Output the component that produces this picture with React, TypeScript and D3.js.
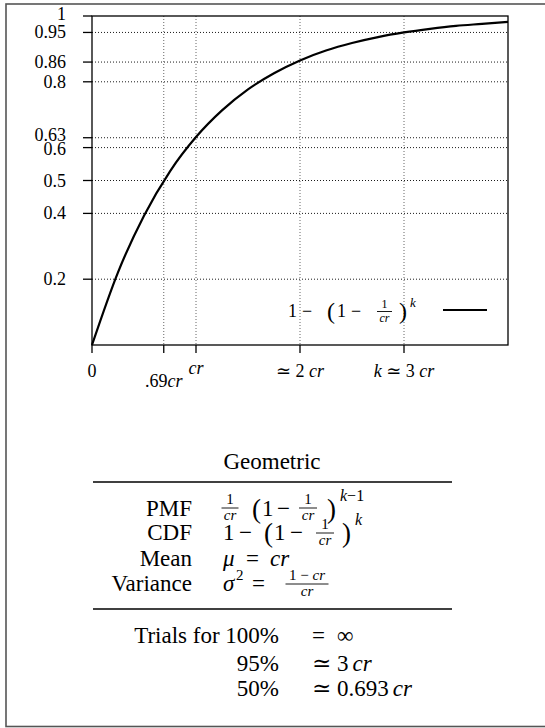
import React from 'react';
import * as d3 from 'd3';

const trialsK = [0, 0.25, 0.5, 0.75, 1, 1.25, 1.5, 1.75, 2, 2.25, 2.5, 2.75, 3, 3.25, 3.5, 3.75, 4];
const cdfValues = [0, 0.221, 0.393, 0.528, 0.632, 0.713, 0.777, 0.826, 0.865, 0.895, 0.918, 0.936, 0.95, 0.961, 0.97, 0.976, 0.982];

const yTickValues = [0.2, 0.4, 0.5, 0.6, 0.63, 0.8, 0.86, 0.95, 1];
const yTickLabels = ['0.2', '0.4', '0.5', '0.6', '0.63', '0.8', '0.86', '0.95', '1'];
const xTickValues = [0, 0.69, 1, 2, 3];
const xTickLabels = ['0', '.69cr', 'cr', '≃ 2 cr', 'k ≃ 3 cr'];

const statNames = ['PMF', 'CDF', 'Mean', 'Variance'];
const trialShares = ['100%', '95%', '50%'];
const trialCounts = ['= ∞', '≃ 3 cr', '≃ 0.693 cr'];

const FONT = "'Liberation Serif', 'DejaVu Serif', serif";

// letters are set in italic like TeX math
const mathText = (s: string) =>
  s.split(/([a-zμσ]+)/).filter(Boolean).map((part, i) =>
    /^[a-zμσ]+$/.test(part)
      ? <tspan key={i} fontStyle="italic">{part}</tspan>
      : <tspan key={i}>{part}</tspan>
  );

const Frac = ({ cx, bar, w, num, den, size, numDy, denDy }: any) => (
  <g fontSize={size}>
    <text x={cx} y={bar - numDy} textAnchor="middle">{num}</text>
    <line x1={cx - w / 2} x2={cx + w / 2} y1={bar} y2={bar} stroke="#000" strokeWidth={0.9} />
    <text x={cx} y={bar + denDy} textAnchor="middle">{den}</text>
  </g>
);

const cr = <tspan fontStyle="italic">cr</tspan>;

export default function App() {
  const width = 545;
  const height = 728;
  const plot = { left: 92, right: 508, top: 16, bottom: 345 };

  const x = d3.scaleLinear().domain([0, 4]).range([plot.left, plot.right]);
  const y = d3.scaleLinear().domain([0, 1]).range([plot.bottom, plot.top]);

  const line = d3
    .line<number>()
    .x((d, i) => x(trialsK[i]))
    .y(d => y(d))
    .curve(d3.curveMonotoneX);

  // labels that overlap in the original are nudged apart
  const yNudge: Record<string, number> = { '1': -2, '0.63': -3, '0.6': 1 };
  const xNudge: Record<string, number> = { '.69cr': 10, 'cr': -3 };

  const statRows = [516, 540, 566, 591];
  const trialRows = [643, 671, 696];

  return (
    <svg
      width={width}
      height={height}
      style={{ position: 'absolute', left: 0, top: 0, display: 'block', background: '#fff', fontFamily: FONT }}
    >
      <rect x={6} y={4} width={600} height={722.5} fill="none" stroke="#555" strokeWidth={1.6} />

      {/* grid */}
      {yTickValues.filter(v => v < 1).map(v => (
        <line key={'gy' + v} x1={plot.left} x2={plot.right} y1={y(v)} y2={y(v)}
          stroke="#000" strokeWidth={0.9} strokeDasharray="1 2" />
      ))}
      {xTickValues.filter(v => v > 0).map(v => (
        <line key={'gx' + v} x1={x(v)} x2={x(v)} y1={plot.top} y2={plot.bottom}
          stroke="#666" strokeWidth={1} strokeDasharray="1 2" />
      ))}

      {/* curve */}
      <path d={line(cdfValues) || ''} fill="none" stroke="#000" strokeWidth={2.2} />

      {/* frame */}
      <rect x={plot.left} y={plot.top} width={plot.right - plot.left} height={plot.bottom - plot.top}
        fill="none" stroke="#000" strokeWidth={1.3} />

      {/* y axis */}
      <g fontSize={18} textAnchor="end">
        {yTickValues.map((v, i) => (
          <g key={'ty' + v}>
            <line x1={plot.left - 9} x2={plot.left} y1={y(v)} y2={y(v)} stroke="#000" strokeWidth={1.3} />
            <text x={66} y={y(v) + 6 + (yNudge[yTickLabels[i]] || 0)}>{yTickLabels[i]}</text>
          </g>
        ))}
      </g>

      {/* x axis */}
      <g fontSize={18} textAnchor="middle">
        {xTickValues.map((v, i) => (
          <g key={'tx' + v}>
            <line x1={x(v)} x2={x(v)} y1={plot.bottom} y2={plot.bottom + 8} stroke="#000" strokeWidth={1.3} />
            <text x={x(v)} y={377 + (xNudge[xTickLabels[i]] || 0)}>{mathText(xTickLabels[i])}</text>
          </g>
        ))}
      </g>

      {/* legend */}
      <g fontSize={18}>
        <text x={288} y={317}>1</text>
        <text x={302} y={317}>−</text>
        <text x={327} y={319} fontSize={24}>(</text>
        <text x={337} y={317}>1</text>
        <text x={351} y={317}>−</text>
        <Frac cx={384.5} bar={311.5} w={15} num="1" den={cr} size={12} numDy={4} denDy={10.5} />
        <text x={399} y={319} fontSize={24}>)</text>
        <text x={410} y={307} fontSize={13} fontStyle="italic">k</text>
        <line x1={443} x2={487} y1={310} y2={310} stroke="#000" strokeWidth={2.2} />
      </g>

      {/* table */}
      <g fontSize={23}>
        <text x={272} y={469} textAnchor="middle">Geometric</text>
        <line x1={93} x2={452} y1={482} y2={482} stroke="#000" strokeWidth={1.3} />

        {statNames.map((s, i) => (
          <text key={s} x={192} y={statRows[i]} textAnchor="end">{s}</text>
        ))}

        {/* PMF */}
        <Frac cx={230} bar={508} w={17} num="1" den={cr} size={15} numDy={4} denDy={12} />
        <text x={252} y={518} fontSize={27}>(</text>
        <text x={262} y={516}>1</text>
        <text x={277} y={516}>−</text>
        <Frac cx={308} bar={508} w={18} num="1" den={cr} size={15} numDy={4} denDy={12} />
        <text x={327} y={518} fontSize={27}>)</text>
        <text x={340} y={501} fontSize={16}><tspan fontStyle="italic">k</tspan>−1</text>

        {/* CDF */}
        <text x={223} y={540}>1</text>
        <text x={239} y={540}>−</text>
        <text x={264} y={542} fontSize={27}>(</text>
        <text x={274} y={540}>1</text>
        <text x={290} y={540}>−</text>
        <Frac cx={325} bar={533} w={18} num="1" den={cr} size={15} numDy={4} denDy={12} />
        <text x={342} y={542} fontSize={27}>)</text>
        <text x={355} y={525} fontSize={16} fontStyle="italic">k</text>

        {/* Mean */}
        <text x={223} y={566} fontStyle="italic">μ</text>
        <text x={246} y={566}>=</text>
        <text x={270} y={566} fontStyle="italic">cr</text>

        {/* Variance */}
        <text x={223} y={591} fontStyle="italic">σ</text>
        <text x={236} y={580} fontSize={15}>2</text>
        <text x={252} y={591}>=</text>
        <Frac cx={307} bar={584} w={43} num={<>1 − {cr}</>} den={cr} size={15} numDy={4} denDy={12} />

        <line x1={93} x2={452} y1={609} y2={609} stroke="#000" strokeWidth={1.3} />

        {trialShares.map((s, i) => {
          const [sym, ...rest] = trialCounts[i].split(' ');
          return (
            <g key={s}>
              <text x={279} y={trialRows[i]} textAnchor="end">{i === 0 ? `Trials for ${s}` : s}</text>
              <text x={312} y={trialRows[i]}>{sym}</text>
              <text x={337} y={trialRows[i]}>
                {rest.map((r, j) => (
                  <tspan key={j} dx={j > 0 ? 4 : 0} fontStyle={/^[a-z]+$/.test(r) ? 'italic' : 'normal'}>{r}</tspan>
                ))}
              </text>
            </g>
          );
        })}
      </g>
    </svg>
  );
}
